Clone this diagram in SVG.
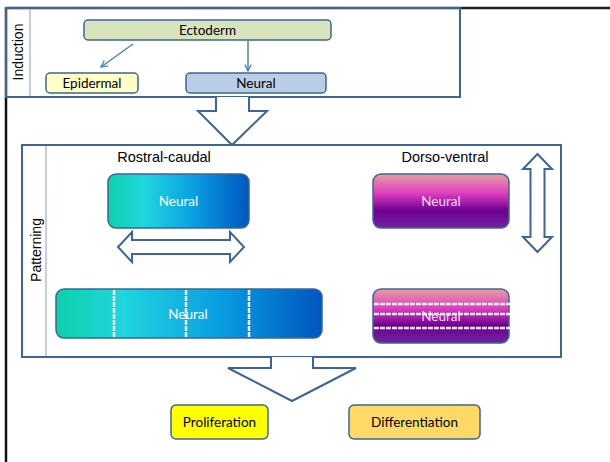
<svg xmlns="http://www.w3.org/2000/svg" width="610" height="462" viewBox="0 0 610 462">
  <style>
    .frame { fill: none; stroke: #3d6596; stroke-width: 2; }
    .block { fill: #ffffff; stroke: #3d6596; stroke-width: 2; stroke-linejoin: miter; }
    .box { stroke: #3d6596; stroke-width: 1.5; }
    .lbl { font-family: Lato, "Open Sans", sans-serif; font-size: 13.5px; fill: #000; text-anchor: middle; }
    .wlbl { font-family: Lato, "Open Sans", sans-serif; font-size: 13.5px; fill: #ffffff; text-anchor: middle; }
    .plbl { font-family: Lato, "Open Sans", sans-serif; font-size: 13.5px; fill: #f4d8f0; text-anchor: middle; }
    .head { font-family: "Liberation Sans", Arial, sans-serif; font-size: 14.5px; fill: #000; text-anchor: middle; }
    .side { font-family: "Liberation Sans", Arial, sans-serif; font-size: 14px; fill: #000; text-anchor: middle; }
    .conn { stroke: #4f81bd; stroke-width: 1.5; fill: none; marker-end: url(#open); }
    .cut { stroke: #ffffff; stroke-width: 2.5; stroke-dasharray: 5 1; opacity: 0.9; }
  </style>
  <defs>
    <marker id="open" viewBox="0 0 10 10" refX="9" refY="5" markerWidth="8" markerHeight="8" orient="auto" markerUnits="userSpaceOnUse">
      <path d="M1,1 L9,5 L1,9" fill="none" stroke="#4f81bd" stroke-width="1.6"/>
    </marker>
    <linearGradient id="rc" x1="0" y1="0" x2="1" y2="0">
      <stop offset="0" stop-color="#0cd0aa"/>
      <stop offset="0.25" stop-color="#20d6de"/>
      <stop offset="0.6" stop-color="#0aa0e2"/>
      <stop offset="1" stop-color="#0056bf"/>
    </linearGradient>
    <linearGradient id="dv" x1="0" y1="0" x2="0" y2="1">
      <stop offset="0" stop-color="#e2a0a0"/>
      <stop offset="0.35" stop-color="#e040c0"/>
      <stop offset="0.68" stop-color="#6c0090"/>
      <stop offset="1" stop-color="#7024a0"/>
    </linearGradient>
  </defs>

  <rect width="610" height="462" fill="#ffffff"/>

  <!-- page frame -->
  <line x1="6" y1="8" x2="610" y2="8" stroke="#222" stroke-width="2.5"/>
  <line x1="6" y1="7" x2="6" y2="462" stroke="#111" stroke-width="2.5"/>

  <!-- Induction panel -->
  <g id="induction">
    <rect class="frame" x="6" y="8" width="454" height="89"/>
    <line x1="30" y1="9" x2="30" y2="96" stroke="#95b3d7" stroke-width="1.2"/>
    <text class="side" transform="translate(23,52) rotate(-90)">Induction</text>
  </g>

  <!-- Patterning panel -->
  <g id="patterning">
    <rect class="frame" x="22" y="145" width="539" height="212"/>
    <line x1="46" y1="146" x2="46" y2="356" stroke="#95b3d7" stroke-width="1.2"/>
    <text class="side" transform="translate(41,250) rotate(-90)">Patterning</text>
    <text class="head" x="164" y="162">Rostral-caudal</text>
    <text class="head" x="445" y="162">Dorso-ventral</text>
  </g>

  <g id="ectoderm">
    <rect class="box" x="84" y="20" width="247" height="20" rx="4" fill="#d7e4bd"/>
    <text class="lbl" x="207.5" y="35">Ectoderm</text>
  </g>
  <g id="epidermal">
    <rect class="box" x="46" y="73" width="92" height="20" rx="4" fill="#ffffc6"/>
    <text class="lbl" x="92" y="88">Epidermal</text>
  </g>
  <g id="neural-induced">
    <rect class="box" x="186" y="73" width="140" height="20" rx="4" fill="#b9cde5"/>
    <text class="lbl" x="256" y="88">Neural</text>
  </g>

  <g id="connectors">
    <line class="conn" x1="133" y1="44" x2="101" y2="67"/>
    <line class="conn" x1="248" y1="40" x2="248" y2="71"/>
  </g>

  <!-- block arrow from induction to patterning -->
  <g id="arrow-induction">
    <path class="block" d="M216,97 L216,111 L198,111 L232,145 L267,111 L249,111 L249,97"/>
  </g>

  <!-- rostral-caudal neural plate -->
  <g id="neural-rc">
    <rect class="box" x="108" y="174" width="141" height="54" rx="8" fill="url(#rc)"/>
    <text class="wlbl" x="178.5" y="206">Neural</text>
  </g>
  <g id="arrow-rc">
    <path class="block" d="M118,247 L132,232 L132,240 L230,240 L230,232 L244,247 L230,262 L230,254 L132,254 L132,262 Z"/>
  </g>

  <!-- dorso-ventral neural plate -->
  <g id="neural-dv">
    <rect class="box" x="373" y="174" width="136" height="54" rx="8" fill="url(#dv)"/>
    <text class="plbl" x="441" y="206">Neural</text>
  </g>
  <g id="arrow-dv">
    <path class="block" d="M537.5,154 L552,169 L544.5,169 L544.5,237 L552,237 L537.5,252 L523,237 L530.5,237 L530.5,169 L523,169 Z"/>
  </g>

  <!-- segmented rostral-caudal plate -->
  <g id="neural-rc-segments">
    <rect class="box" x="56" y="289" width="266" height="49" rx="8" fill="url(#rc)"/>
    <text class="wlbl" x="188" y="319">Neural</text>
    <line class="cut" x1="114" y1="290" x2="114" y2="338"/>
    <line class="cut" x1="186" y1="290" x2="186" y2="338"/>
    <line class="cut" x1="249" y1="290" x2="249" y2="338"/>
  </g>

  <!-- segmented dorso-ventral plate -->
  <g id="neural-dv-segments">
    <rect class="box" x="373" y="289" width="136" height="54" rx="8" fill="url(#dv)"/>
    <text class="plbl" x="441" y="321">Neural</text>
    <line class="cut" x1="374" y1="304" x2="510" y2="304"/>
    <line class="cut" x1="374" y1="314" x2="510" y2="314"/>
    <line class="cut" x1="374" y1="328" x2="510" y2="328"/>
  </g>

  <!-- block arrow from patterning to outcomes -->
  <g id="arrow-patterning">
    <path class="block" d="M271,357 L271,368 L228,368 L292,401 L356,368 L313,368 L313,357"/>
  </g>

  <g id="proliferation">
    <rect class="box" x="171" y="405" width="97" height="34" rx="5" fill="#ffff00"/>
    <text class="lbl" x="219.5" y="427">Proliferation</text>
  </g>
  <g id="differentiation">
    <rect class="box" x="349" y="405" width="131" height="34" rx="5" fill="#ffd966"/>
    <text class="lbl" x="414.5" y="427">Differentiation</text>
  </g>
</svg>
